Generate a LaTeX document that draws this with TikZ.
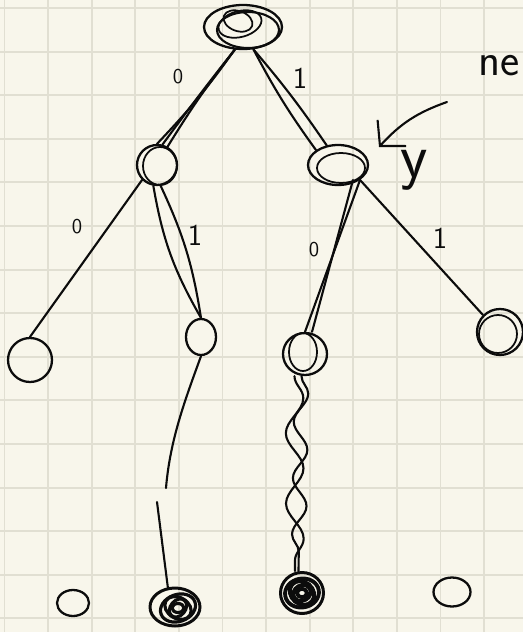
\documentclass[tikz,border=0pt]{standalone}
\usepackage{tikz}
\usetikzlibrary{shapes.geometric, arrows.meta, positioning, decorations.pathmorphing}
\definecolor{paper}{RGB}{248,246,235}
\definecolor{gridline}{RGB}{225,223,210}
\definecolor{ink}{RGB}{12,12,12}
\tikzset{
  knot/.style={ellipse, draw=ink, line width=1.3pt, inner sep=0pt},
  blot/.style={knot, line width=1.7pt},
  link/.style={draw=ink, line width=1.2pt, line cap=round},
  squiggle/.style={link, decorate,
                   decoration={snake, amplitude=5pt, segment length=40pt}},
  bit/.style={text=ink, font=\sffamily\large},
  rule/.style={draw=gridline, line width=1.1pt}
}

\begin{document}
\begin{tikzpicture}[x=0.02cm, y=-0.02cm]
  % squared paper
  \fill[paper] (0,0) rectangle (523,632);
  \useasboundingbox (0,0) rectangle (523,632);
  \foreach \gx in {0,...,11} \draw[rule] ({4.5+43.6*\gx},0) -- ++(0,632);
  \foreach \gy in {0,...,14} \draw[rule] (0,{8+43.6*\gy}) -- ++(523,0);

  % nodes of the trie
  \node[knot, minimum width=1.56cm, minimum height=0.88cm] (root) at (243,27) {};
  \node[knot, minimum width=0.80cm, minimum height=0.80cm] (left) at (157,165) {};
  \node[knot, minimum width=1.20cm, minimum height=0.80cm] (right) at (338,165) {};
  \node[knot, minimum width=0.88cm, minimum height=0.88cm] (ll) at (30,360) {};
  \node[knot, minimum width=0.60cm, minimum height=0.72cm] (lr) at (201,337) {};
  \node[knot, minimum width=0.88cm, minimum height=0.84cm] (rl) at (305,354) {};
  \node[knot, minimum width=0.92cm, minimum height=0.92cm] (rr) at (500,332) {};
  \node[knot, minimum width=0.64cm, minimum height=0.52cm] (leafa) at (73,603) {};
  \node[blot, minimum width=1.00cm, minimum height=0.76cm] (leafb) at (175,607) {};
  \node[blot, minimum width=0.86cm, minimum height=0.82cm] (leafc) at (302,593) {};
  \node[knot, minimum width=0.74cm, minimum height=0.58cm] (leafd) at (452,592) {};

  % scribbles over some nodes
  \draw[ink, line width=1.2pt] (248,30) ellipse (31 and 18);
  \draw[ink, line width=1.0pt, rotate around={-20:(238,21)}] (238,21) ellipse (15 and 10);
  \draw[ink, line width=1.0pt, rotate around={15:(240,24)}] (240,24) ellipse (22 and 13);
  \draw[ink, line width=1.0pt] (160,166) ellipse (17 and 19);
  \draw[ink, line width=1.0pt] (341,168) ellipse (24 and 15);
  \draw[ink, line width=1.0pt] (303,352) ellipse (14 and 19);
  \draw[ink, line width=1.0pt] (498,334) ellipse (19 and 19);
  \foreach \r/\a in {18/20, 14/-30, 10/50, 6/0}
    \draw[ink, line width=1.8pt, rotate around={\a:(178,608)}] (178,608) ellipse ({\r} and {0.75*\r});
  \foreach \r/\a in {17/10, 13/-40, 9/30, 5/0}
    \draw[ink, line width=2.2pt, rotate around={\a:(302,593)}] (302,593) ellipse ({\r} and {0.85*\r});

  % edges
  \draw[link] (root.-110) to[bend left=4] (left.north);
  \draw[link] (root.-110) to[bend right=3] (left.60);
  \draw[link] (root.-110) to[bend right=1] (left.75);
  \draw[link] (root.-65) to[bend right=4] (right.north west);
  \draw[link] (root.-65) to[bend left=3] (right.120);
  \draw[link] (left.south west) -- (ll.north);
  \draw[link] (left.-100) to[bend right=10] (lr.north);
  \draw[link] (left.-80) to[bend left=8] (lr.north);
  \draw[link] (right.south east) -- (rl.north);
  \draw[link] ([xshift=-4]right.south east) -- ([xshift=4]rl.north);
  \draw[link] (right.south east) -- (rr.north west);
  \coordinate (breakup) at (166,488);
  \coordinate (breakdn) at (157,502);
  \draw[link] (lr.south) .. controls (185,400) and (170,440) .. (breakup);
  \draw[link] (breakdn) -- (leafb.110);
  \draw[squiggle] ([xshift=-6]rl.south) -- ([xshift=-4]leafc.north);
  \draw[squiggle, decoration={snake, amplitude=4pt, segment length=32pt}]
       ([xshift=-2]rl.south) -- ([xshift=-2]leafc.north);

  % pointer to the right child
  \coordinate (tail) at (447,102);
  \coordinate (tip) at (379,147);
  \draw[link, -{Straight Barb[length=10pt, width=22pt]}] (tail) to[bend right=14] (tip);

  % edge labels
  \node[bit] (b0) at (178,77) {0};
  \node[bit, font=\sffamily\LARGE] (b1) at (300,78) {1};
  \node[bit] (b2) at (77,227) {0};
  \node[bit, font=\sffamily\LARGE] (b3) at (195,235) {1};
  \node[bit] (b4) at (314,250) {0};
  \node[bit, font=\sffamily\LARGE] (b5) at (440,238) {1};
  \node[bit, font=\sffamily\fontsize{36}{38}\selectfont] (why) at (414,170) {y};
  \node[bit, anchor=east, inner sep=1pt, font=\sffamily\fontsize{26}{28}\selectfont] (note) at (522,66) {ne};
\end{tikzpicture}
\end{document}
